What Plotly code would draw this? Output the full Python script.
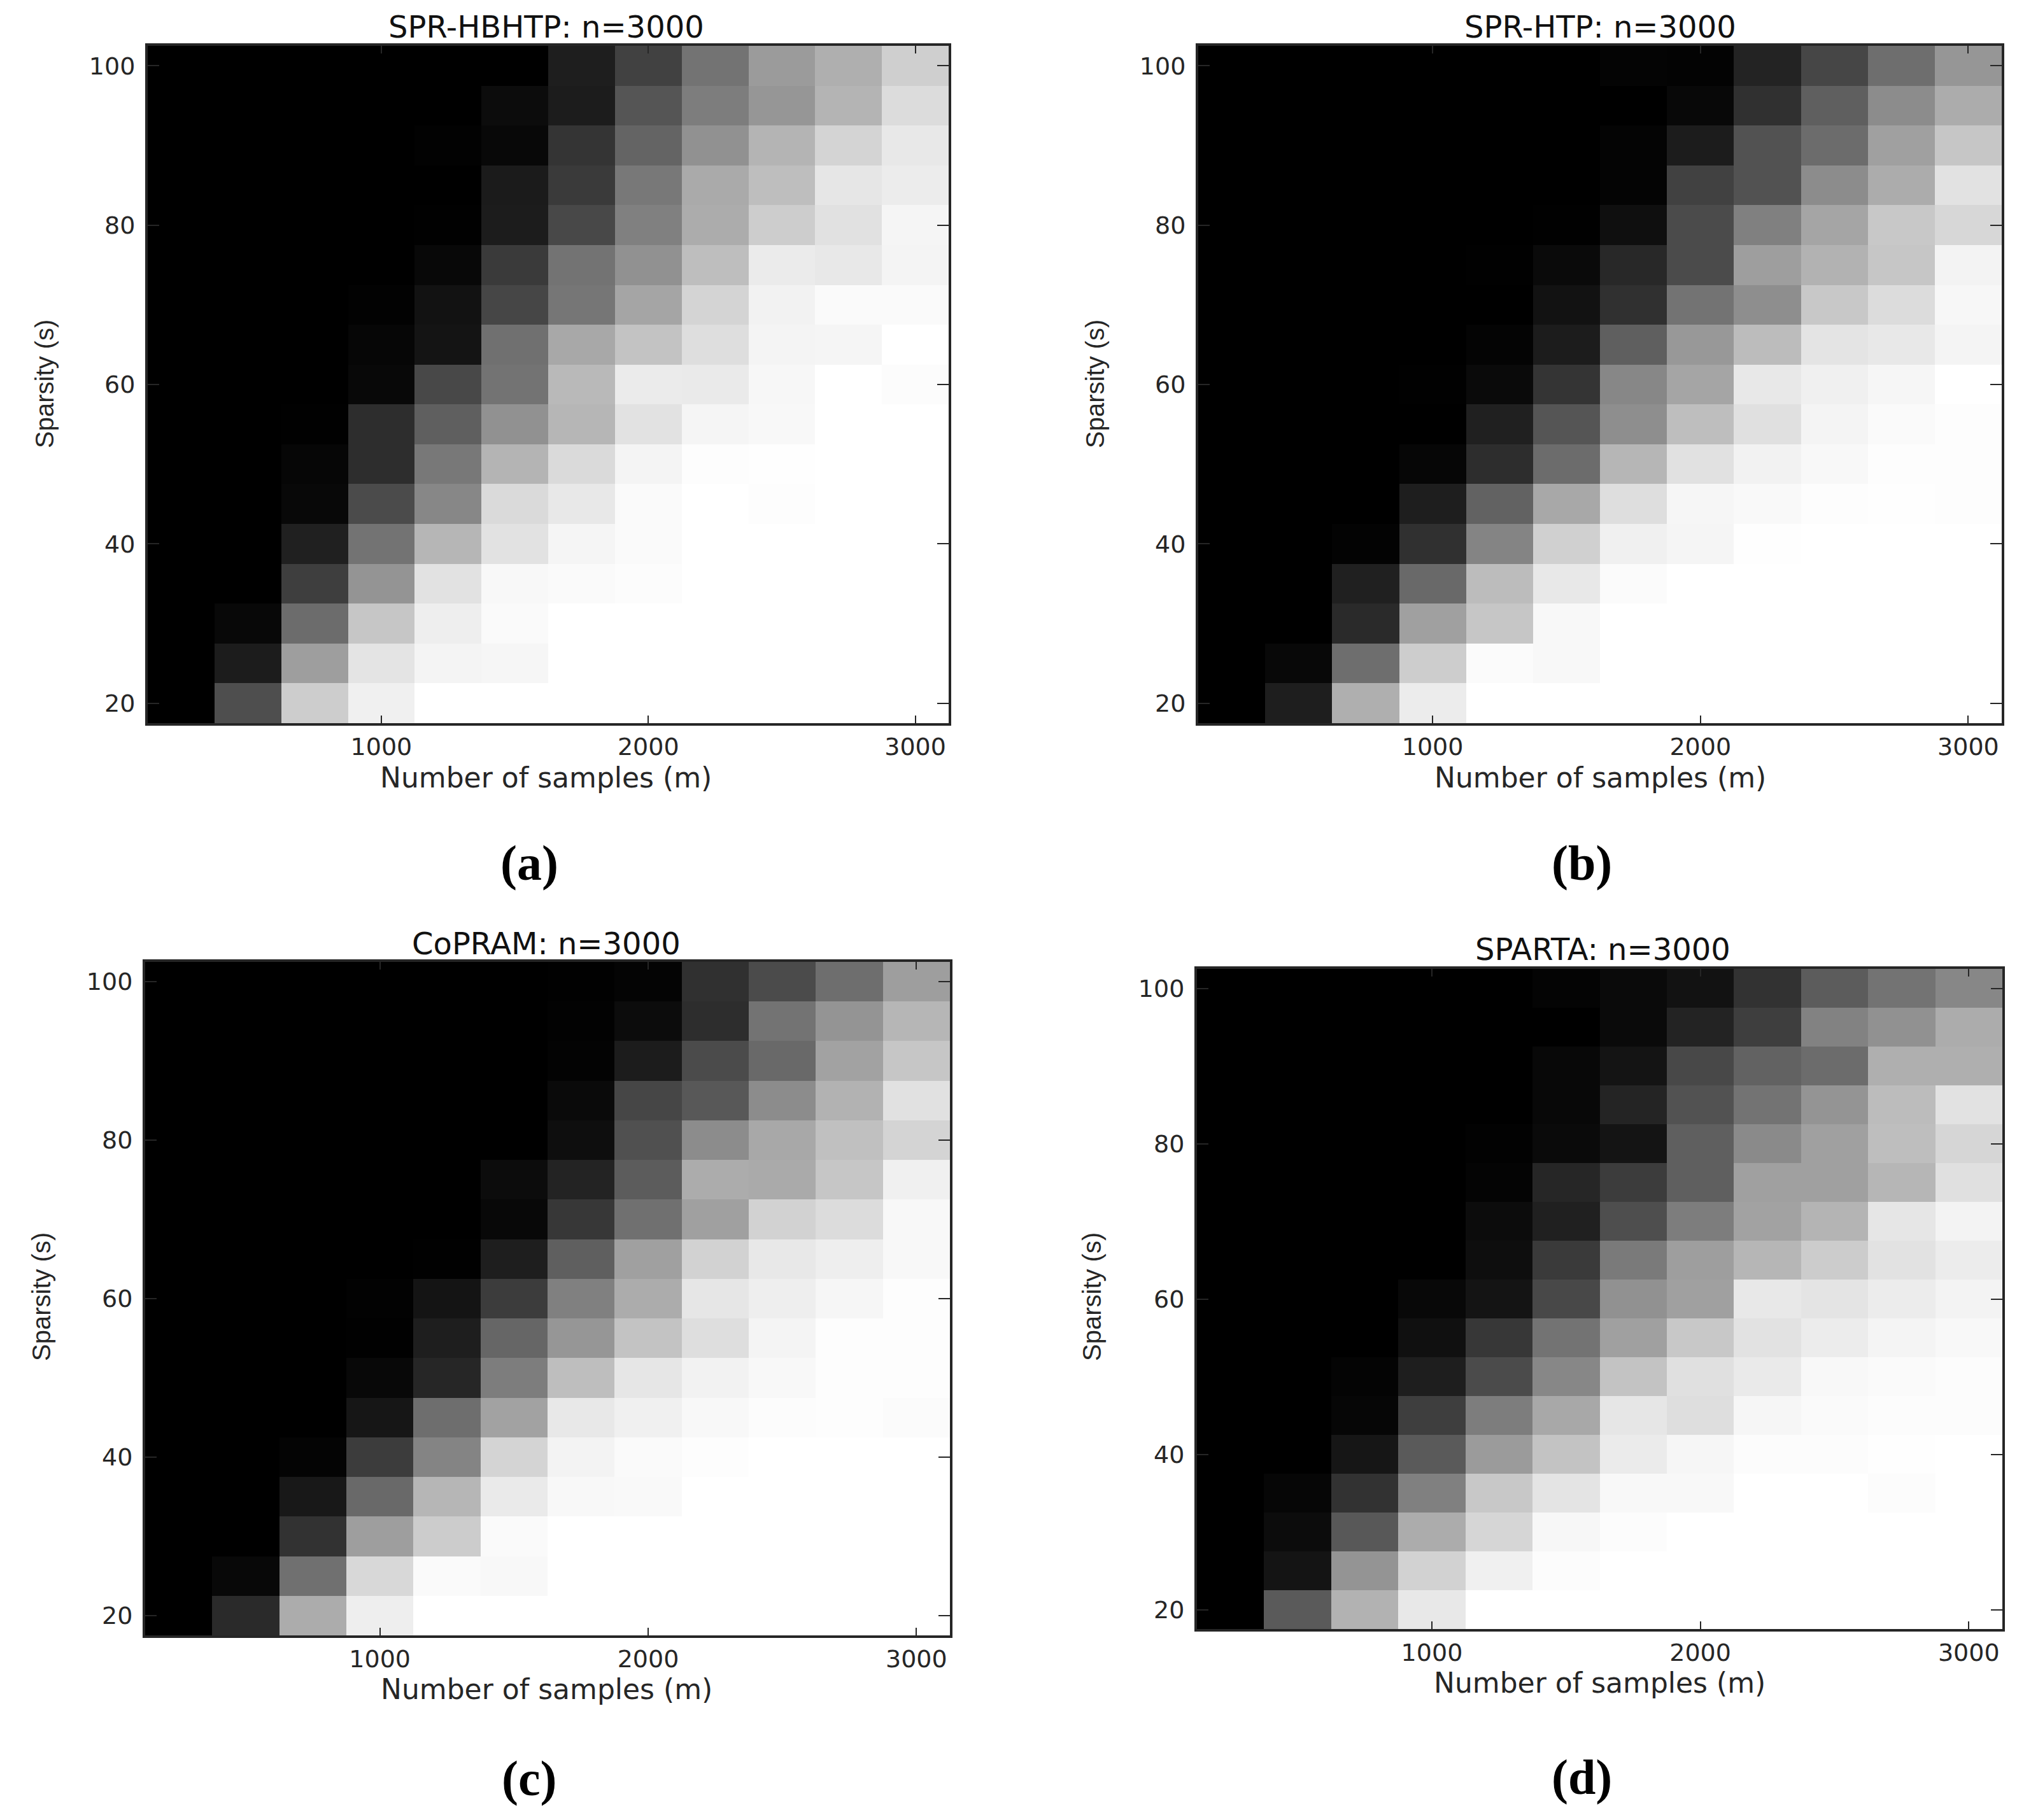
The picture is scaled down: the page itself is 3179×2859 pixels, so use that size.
import plotly.graph_objects as go

samples = [250, 500, 750, 1000, 1250, 1500, 1750, 2000, 2250, 2500, 2750, 3000]
sparsity = [100, 95, 90, 85, 80, 75, 70, 65, 60, 55, 50, 45, 40, 35, 30, 25, 20]

# grey level of each cell, top row is s=100
spr_hbhtp = [
    [0, 0, 0, 0, 0, 0, 30, 65, 115, 155, 175, 207],
    [0, 0, 0, 0, 0, 12, 28, 85, 125, 150, 180, 220],
    [0, 0, 0, 0, 2, 8, 52, 100, 145, 180, 212, 232],
    [0, 0, 0, 0, 0, 27, 58, 120, 170, 190, 230, 236],
    [0, 0, 0, 0, 1, 28, 72, 128, 172, 205, 225, 245],
    [0, 0, 0, 0, 8, 58, 115, 145, 190, 235, 232, 244],
    [0, 0, 0, 2, 18, 70, 118, 165, 212, 242, 250, 250],
    [0, 0, 0, 6, 20, 112, 168, 195, 222, 244, 245, 255],
    [0, 0, 0, 8, 72, 115, 185, 235, 234, 247, 255, 252],
    [0, 0, 1, 45, 95, 145, 182, 226, 245, 248, 255, 255],
    [0, 0, 6, 45, 120, 180, 218, 244, 253, 254, 255, 255],
    [0, 0, 8, 75, 135, 218, 232, 250, 255, 253, 255, 255],
    [0, 0, 32, 115, 182, 226, 245, 250, 255, 255, 255, 255],
    [0, 0, 62, 148, 226, 248, 250, 252, 255, 255, 255, 255],
    [0, 8, 108, 198, 238, 250, 255, 255, 255, 255, 255, 255],
    [0, 28, 158, 228, 244, 246, 255, 255, 255, 255, 255, 255],
    [0, 78, 205, 240, 255, 255, 255, 255, 255, 255, 255, 255],
]
spr_htp = [
    [0, 0, 0, 0, 0, 0, 4, 3, 35, 70, 110, 150],
    [0, 0, 0, 0, 0, 0, 0, 8, 48, 95, 140, 172],
    [0, 0, 0, 0, 0, 0, 4, 28, 82, 108, 160, 198],
    [0, 0, 0, 0, 0, 0, 4, 65, 82, 140, 172, 226],
    [0, 0, 0, 0, 0, 1, 15, 75, 128, 165, 200, 215],
    [0, 0, 0, 0, 1, 10, 40, 75, 158, 178, 198, 243],
    [0, 0, 0, 0, 0, 18, 48, 115, 142, 200, 220, 247],
    [0, 0, 0, 0, 4, 28, 95, 152, 188, 228, 232, 244],
    [0, 0, 0, 1, 10, 52, 135, 165, 232, 240, 246, 255],
    [0, 0, 0, 0, 32, 85, 142, 190, 224, 244, 250, 253],
    [0, 0, 0, 6, 45, 108, 182, 225, 242, 248, 253, 253],
    [0, 0, 0, 30, 98, 168, 222, 246, 249, 253, 254, 253],
    [0, 0, 3, 48, 132, 208, 240, 245, 254, 255, 255, 255],
    [0, 0, 32, 105, 188, 232, 251, 255, 255, 255, 255, 255],
    [0, 0, 42, 160, 198, 248, 255, 255, 255, 255, 255, 255],
    [0, 8, 110, 205, 251, 248, 255, 255, 255, 255, 255, 255],
    [0, 30, 175, 236, 255, 255, 255, 255, 255, 255, 255, 255],
]
copram = [
    [0, 0, 0, 0, 0, 0, 1, 4, 48, 75, 110, 158],
    [0, 0, 0, 0, 0, 0, 2, 12, 45, 115, 148, 182],
    [0, 0, 0, 0, 0, 0, 3, 28, 75, 105, 162, 198],
    [0, 0, 0, 0, 0, 0, 10, 70, 88, 140, 178, 225],
    [0, 0, 0, 0, 0, 0, 14, 80, 140, 168, 192, 212],
    [0, 0, 0, 0, 0, 12, 35, 92, 172, 170, 198, 240],
    [0, 0, 0, 0, 0, 8, 55, 112, 160, 210, 220, 248],
    [0, 0, 0, 0, 1, 30, 95, 160, 210, 232, 238, 248],
    [0, 0, 0, 2, 20, 60, 128, 172, 230, 238, 246, 253],
    [0, 0, 0, 1, 30, 102, 150, 195, 222, 244, 253, 253],
    [0, 0, 0, 8, 38, 125, 190, 230, 242, 248, 253, 253],
    [0, 0, 0, 22, 110, 162, 232, 240, 248, 252, 253, 251],
    [0, 0, 4, 60, 132, 212, 243, 250, 253, 255, 255, 255],
    [0, 0, 24, 105, 182, 234, 248, 249, 255, 255, 255, 255],
    [0, 0, 50, 158, 204, 250, 255, 255, 255, 255, 255, 255],
    [0, 8, 112, 216, 250, 248, 255, 255, 255, 255, 255, 255],
    [0, 42, 172, 238, 255, 255, 255, 255, 255, 255, 255, 255],
]
sparta = [
    [0, 0, 0, 0, 0, 4, 10, 18, 50, 92, 115, 135],
    [0, 0, 0, 0, 0, 0, 10, 35, 62, 130, 145, 172],
    [0, 0, 0, 0, 0, 8, 20, 72, 98, 108, 175, 175],
    [0, 0, 0, 0, 0, 8, 36, 82, 115, 148, 188, 226],
    [0, 0, 0, 0, 2, 10, 20, 95, 138, 160, 190, 214],
    [0, 0, 0, 0, 4, 38, 60, 95, 160, 160, 182, 224],
    [0, 0, 0, 0, 12, 32, 78, 125, 162, 180, 230, 243],
    [0, 0, 0, 0, 14, 58, 122, 158, 182, 204, 226, 236],
    [0, 0, 0, 8, 20, 72, 145, 160, 232, 228, 236, 243],
    [0, 0, 0, 16, 55, 115, 160, 200, 226, 236, 244, 248],
    [0, 0, 4, 30, 75, 135, 195, 224, 234, 248, 250, 252],
    [0, 0, 6, 62, 125, 168, 230, 222, 246, 250, 252, 252],
    [0, 0, 22, 90, 155, 195, 235, 246, 252, 252, 254, 255],
    [0, 6, 50, 128, 200, 228, 248, 248, 255, 255, 252, 255],
    [0, 12, 88, 172, 214, 247, 252, 255, 255, 255, 255, 255],
    [0, 20, 148, 210, 240, 252, 255, 255, 255, 255, 255, 255],
    [0, 90, 178, 232, 255, 255, 255, 255, 255, 255, 255, 255],
]

# the page body keeps its 8px margin, so the figure is a bit smaller than the window
PAGE_W = 3179
PAGE_H = 2859
M = 8
W = PAGE_W - 2 * M
H = PAGE_H - 2 * M
DARK = '#262626'

# name, z, plot box (left, top, right, bottom), then centre of title, xlabel, ylabel, caption
panels = [
    ('SPR-HBHTP: n=3000', spr_hbhtp, (232, 72, 1490, 1136), (858, 42), (858, 1222), (70, 603), '(a)', (831, 1355)),
    ('SPR-HTP: n=3000', spr_htp, (1882, 72, 3144, 1136), (2513, 42), (2513, 1222), (1720, 603), '(b)', (2484, 1355)),
    ('CoPRAM: n=3000', copram, (228, 1511, 1492, 2569), (858, 1482), (859, 2653), (65, 2037), '(c)', (831, 2793)),
    ('SPARTA: n=3000', sparta, (1880, 1522, 3145, 2559), (2517, 1491), (2512, 2643), (1715, 2037), '(d)', (2484, 2791)),
]


def fx(x):
    return (x - M) / W


def fy(y):
    return 1 - (y - M) / H


def label(text, pos, font, size, color=DARK, angle=0, weight=400):
    return dict(text=text, x=fx(pos[0]), y=fy(pos[1]), xref='paper', yref='paper', showarrow=False,
                textangle=angle, xanchor='center', yanchor='middle',
                font=dict(family=font, size=size, color=color, weight=weight))


fig = go.Figure()
notes = []
axes = {}
for i, (title, z, box, t_pos, x_pos, y_pos, cap, cap_pos) in enumerate(panels):
    n = '' if i == 0 else str(i + 1)
    fig.add_trace(go.Heatmap(x=samples, y=sparsity, z=z, zmin=0, zmax=255, showscale=False,
                             colorscale=[[0, '#000000'], [1, '#ffffff']],
                             xaxis='x' + n, yaxis='y' + n))
    left, top, right, bottom = box
    axes['xaxis' + n] = dict(domain=[fx(left), fx(right)], range=[125, 3125], anchor='y' + n,
                             tickvals=[1000, 2000, 3000], ticks='inside', ticklen=12, tickwidth=2,
                             tickcolor=DARK, showline=True, linecolor=DARK, linewidth=4, mirror='ticks',
                             showgrid=False, zeroline=False,
                             tickfont=dict(family='DejaVu Sans', size=38, color=DARK))
    axes['yaxis' + n] = dict(domain=[fy(bottom), fy(top)], range=[17.5, 102.5], anchor='x' + n,
                             tickvals=[20, 40, 60, 80, 100], ticks='inside', ticklen=18, tickwidth=2,
                             tickcolor=DARK, showline=True, linecolor=DARK, linewidth=4, mirror='ticks',
                             showgrid=False, zeroline=False, ticklabelstandoff=8,
                             tickfont=dict(family='DejaVu Sans', size=38, color=DARK))
    notes.append(label(title, t_pos, 'DejaVu Sans', 48, '#111111'))
    notes.append(label('Number of samples (m)', x_pos, 'DejaVu Sans', 44))
    notes.append(label('Sparsity (s)', y_pos, 'Liberation Sans', 40, angle=-90))
    notes.append(label(cap, cap_pos, 'Liberation Serif', 78, '#000000', weight=700))

fig.update_layout(width=W, height=H, autosize=False, margin=dict(l=0, r=0, t=0, b=0),
                  paper_bgcolor='white', plot_bgcolor='white', annotations=notes, **axes)

fig.write_html("out.html")
